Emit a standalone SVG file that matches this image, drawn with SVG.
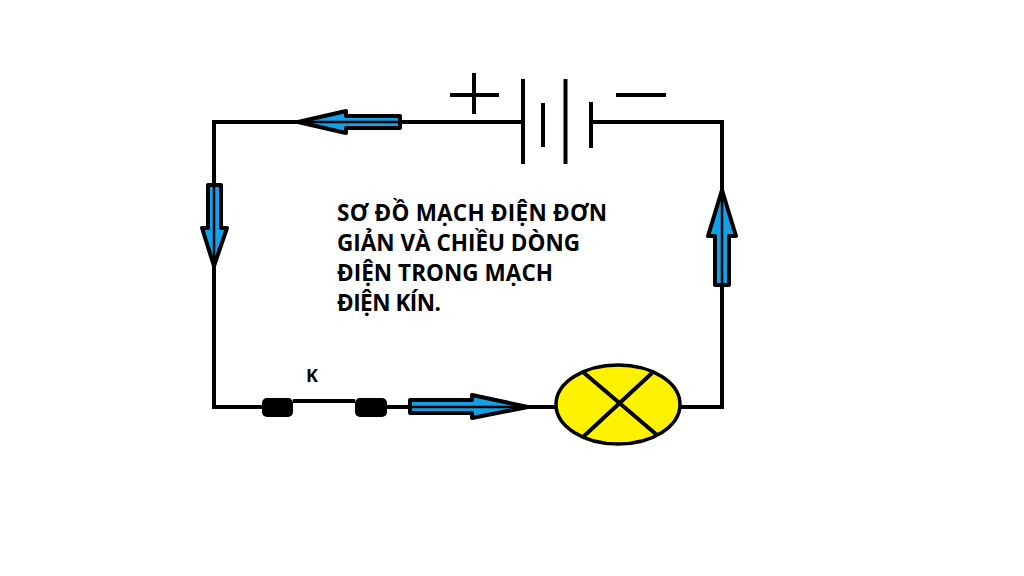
<svg xmlns="http://www.w3.org/2000/svg" width="1024" height="576" viewBox="0 0 1024 576">
<style>
.w{fill:none;stroke:#000;stroke-width:4}
.p{fill:none;stroke:#000;stroke-width:4}
.a{fill:#12a0e6;stroke:#000;stroke-width:4;stroke-linejoin:round}
.c{fill:none;stroke:#000;stroke-width:2.5}
.t{font-family:"Open Sans","Noto Sans","DejaVu Sans",sans-serif;font-weight:700;fill:#000}
.s{fill:#000}
</style>
<rect width="1024" height="576" fill="#fff"/>
<g id="connectors">
<path class="w" d="M523 122H214V407H262"/>
<path class="w" d="M591 122H722V407H680"/>
<path class="w" d="M293 401H355"/>
<path class="w" d="M387 407H556"/>
</g>
<g id="battery">
<path class="p" d="M523 79V164M543 103V147M565.500 79V164M591 102V148"/>
</g>
<g id="plus"><path class="p" d="M450 95H499M474 73V114"/></g>
<g id="minus"><path class="p" d="M616 95H666"/></g>
<g id="lamp">
<ellipse cx="618" cy="404.500" rx="62" ry="39.500" fill="#fff200" stroke="#000" stroke-width="3.500"/>
<path class="p" d="M583 372L657 435M652 373L583 437"/>
</g>
<g id="switch-left"><rect class="s" x="262" y="398" width="31" height="19" rx="5"/></g>
<g id="switch-right"><rect class="s" x="355" y="398" width="32" height="19" rx="5"/></g>
<g id="arrow-top">
<path class="a" d="M298 122L346 111V116H400V128H346V133Z"/><path class="c" d="M296 122H400"/>
</g>
<g id="arrow-left">
<path class="a" d="M214 266L202 228H208V185H221V228H227Z"/><path class="c" d="M214 185V268"/>
</g>
<g id="arrow-bottom">
<path class="a" d="M528 407L472 395V400H410V413H472V418Z"/><path class="c" d="M410 407H530"/>
</g>
<g id="arrow-right">
<path class="a" d="M722 190L708 236H715V285H729V236H736Z"/><path class="c" d="M722 190V285"/>
</g>
<g id="title" class="t" font-size="22.500">
<text x="337" y="221" textLength="270">SƠ ĐỒ MẠCH ĐIỆN ĐƠN</text>
<text x="337" y="251" textLength="243">GIẢN VÀ CHIỀU DÒNG</text>
<text x="337" y="281" textLength="216">ĐIỆN TRONG MẠCH</text>
<text x="337" y="311" textLength="104">ĐIỆN KÍN.</text>
</g>
<g id="label-k"><text class="t" x="306" y="382" font-size="18">K</text></g>
</svg>
